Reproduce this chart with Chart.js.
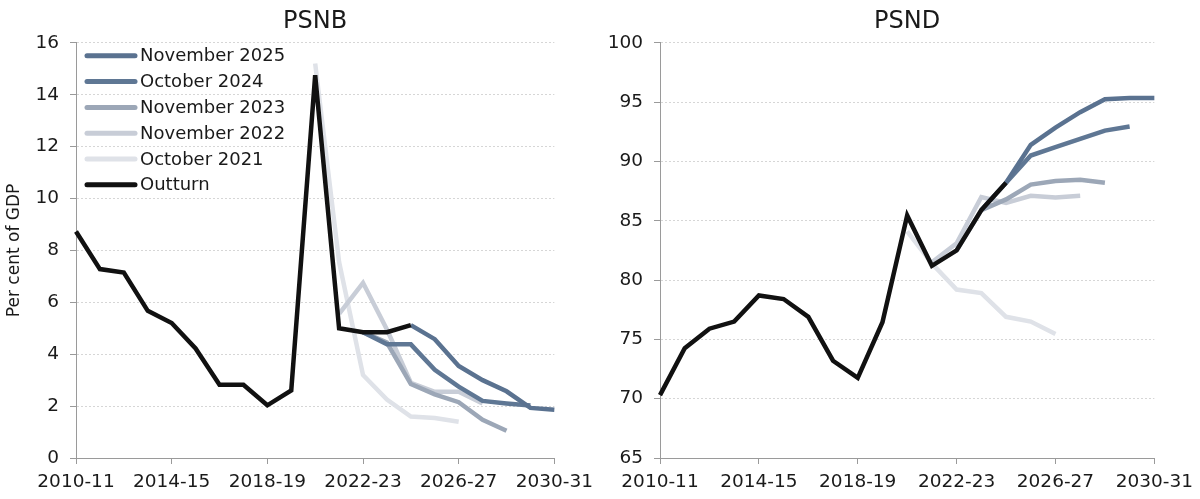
<!DOCTYPE html>
<html lang="en">
<head>
    <meta charset="UTF-8">
    <title>PSNB and PSND forecasts</title>
    <script src="https://cdn.jsdelivr.net/npm/chart.js"></script>
    <style>
        body {
            margin: 0;
            padding: 0;
            background: #ffffff;
            font-family: "DejaVu Sans", sans-serif;
        }
        .wrap {
            position: relative;
            width: 1200px;
            height: 499px;
        }
        .panel {
            position: absolute;
            top: 0;
            width: 600px;
            height: 499px;
        }
    </style>
</head>
<body>
    <div class="wrap">
        <div class="panel" style="left:0"><canvas id="psnb"></canvas></div>
        <div class="panel" style="left:600px"><canvas id="psnd"></canvas></div>
    </div>

    <script>
        // Financial years on the x axis
        const years = ['2010-11', '2011-12', '2012-13', '2013-14', '2014-15', '2015-16', '2016-17',
            '2017-18', '2018-19', '2019-20', '2020-21', '2021-22', '2022-23', '2023-24', '2024-25',
            '2025-26', '2026-27', '2027-28', '2028-29', '2029-30', '2030-31'];

        const seriesNames = ['November 2025', 'October 2024', 'November 2023', 'November 2022', 'October 2021', 'Outturn'];
        const seriesColors = ['#5a7290', '#5f7794', '#9ca7b7', '#c8cdd7', '#dfe2e8', '#111111'];

        // PSNB, per cent of GDP
        const psnbNov2025 = [null, null, null, null, null, null, null, null, null, null, null, null, null, null, 5.12, 4.58, 3.55, 3.0, 2.57, 1.93, 1.86];
        const psnbOct2024 = [null, null, null, null, null, null, null, null, null, null, null, null, 4.85, 4.38, 4.38, 3.4, 2.75, 2.2, 2.1, 2.02, null];
        const psnbNov2023 = [null, null, null, null, null, null, null, null, null, null, null, null, 4.85, 4.45, 2.85, 2.45, 2.15, 1.47, 1.05, null, null];
        const psnbNov2022 = [null, null, null, null, null, null, null, null, null, null, null, 5.55, 6.75, 4.95, 2.9, 2.55, 2.55, 2.1, null, null, null];
        const psnbOct2021 = [null, null, null, null, null, null, null, null, null, null, 15.2, 7.55, 3.2, 2.25, 1.6, 1.54, 1.4, null, null, null, null];
        const psnbOutturn = [8.73, 7.28, 7.15, 5.67, 5.2, 4.22, 2.82, 2.82, 2.03, 2.6, 14.75, 5.0, 4.85, 4.85, 5.12, null, null, null, null, null, null];

        // PSND, per cent of GDP
        const psndNov2025 = [null, null, null, null, null, null, null, null, null, null, null, null, null, null, 88.2, 91.4, 92.85, 94.15, 95.25, 95.35, 95.35];
        const psndOct2024 = [null, null, null, null, null, null, null, null, null, null, null, null, null, 85.9, 88.2, 90.5, 91.2, 91.9, 92.6, 92.95, null];
        const psndNov2023 = [null, null, null, null, null, null, null, null, null, null, null, null, 82.5, 85.9, 86.8, 88.05, 88.35, 88.45, 88.2, null, null];
        const psndNov2022 = [null, null, null, null, null, null, null, null, null, null, null, 81.5, 83.1, 87.0, 86.5, 87.1, 86.95, 87.1, null, null, null];
        const psndOct2021 = [null, null, null, null, null, null, null, null, null, null, 84.1, 81.4, 79.2, 78.9, 76.9, 76.5, 75.45, null, null, null, null];
        const psndOutturn = [70.3, 74.25, 75.9, 76.5, 78.7, 78.4, 76.9, 73.2, 71.75, 76.45, 85.45, 81.2, 82.5, 85.9, 88.2, null, null, null, null, null, null];

        const textColor = '#1a1a1a';
        const axisColor = '#9a9a9a';
        const gridColor = '#d6d6d6';
        const fontFamily = 'DejaVu Sans';

        // legend drawn as a column inside the top-left of the plot area
        const insetLegend = {
            id: 'insetLegend',
            afterDraw(chart, args, opts) {
                if (!opts.show) return;
                const { ctx, chartArea } = chart;
                ctx.save();
                ctx.font = '18px "' + fontFamily + '"';
                ctx.textBaseline = 'middle';
                ctx.lineCap = 'round';
                ctx.lineWidth = 5;
                chart.data.datasets.forEach((ds, i) => {
                    const y = chartArea.top + 13 + i * 25.8;
                    const x = chartArea.left + 11;
                    ctx.strokeStyle = ds.borderColor;
                    ctx.beginPath();
                    ctx.moveTo(x, y);
                    ctx.lineTo(x + 48, y);
                    ctx.stroke();
                    ctx.fillStyle = textColor;
                    ctx.fillText(ds.label, x + 53, y + 1);
                });
                ctx.restore();
            }
        };

        function makeDatasets(rows) {
            return rows.map((values, i) => ({
                label: seriesNames[i],
                data: values,
                borderColor: seriesColors[i],
                backgroundColor: seriesColors[i],
                borderWidth: 4.5,
                pointRadius: 0,
                tension: 0,
                spanGaps: false,
                // outturn on top, older forecasts underneath
                order: i === 5 ? 0 : i + 1
            }));
        }

        function makeChart(id, title, rows, yMin, yMax, yStep, opts) {
            const ctx = document.getElementById(id).getContext('2d');
            return new Chart(ctx, {
                type: 'line',
                data: { labels: years, datasets: makeDatasets(rows) },
                plugins: [insetLegend],
                options: {
                    responsive: true,
                    maintainAspectRatio: false,
                    animation: false,
                    layout: { padding: { left: 0, right: opts.padRight, top: 0, bottom: 0 } },
                    plugins: {
                        tooltip: { enabled: false },
                        legend: { display: false },
                        insetLegend: { show: opts.legend },
                        title: {
                            display: true,
                            text: title,
                            fullSize: false,
                            color: textColor,
                            font: { family: fontFamily, size: 24, weight: 'normal' },
                            padding: { top: 7, bottom: 7 }
                        }
                    },
                    scales: {
                        x: {
                            afterFit: s => { s.height = 41; },
                            grid: {
                                drawOnChartArea: false,
                                tickLength: 6,
                                color: c => (c.index % 4 === 0 ? axisColor : 'rgba(0,0,0,0)')
                            },
                            border: { color: axisColor, width: 1 },
                            ticks: {
                                autoSkip: false,
                                maxRotation: 0,
                                padding: 7,
                                color: textColor,
                                font: { family: fontFamily, size: 18.5 },
                                callback: (v, i) => (i % 4 === 0 ? years[i] : '')
                            }
                        },
                        y: {
                            min: yMin,
                            max: yMax,
                            afterFit: s => { s.width = opts.yWidth; },
                            grid: {
                                color: gridColor,
                                tickColor: axisColor,
                                tickLength: 6,
                                tickBorderDash: []
                            },
                            border: { color: axisColor, width: 1, dash: [2, 2] },
                            ticks: {
                                stepSize: yStep,
                                padding: 11,
                                color: textColor,
                                font: { family: fontFamily, size: 18.5 }
                            },
                            title: {
                                display: !!opts.yTitle,
                                text: opts.yTitle || '',
                                color: textColor,
                                font: { family: fontFamily, size: 17 },
                                padding: { top: 4, bottom: 0 }
                            }
                        }
                    }
                }
            });
        }

        makeChart('psnb', 'PSNB',
            [psnbNov2025, psnbOct2024, psnbNov2023, psnbNov2022, psnbOct2021, psnbOutturn],
            0, 16, 2, { padRight: 42, yWidth: 76, legend: true, yTitle: 'Per cent of GDP' });

        makeChart('psnd', 'PSND',
            [psndNov2025, psndOct2024, psndNov2023, psndNov2022, psndOct2021, psndOutturn],
            65, 100, 5, { padRight: 44, yWidth: 60, legend: false });
    </script>
</body>
</html>
